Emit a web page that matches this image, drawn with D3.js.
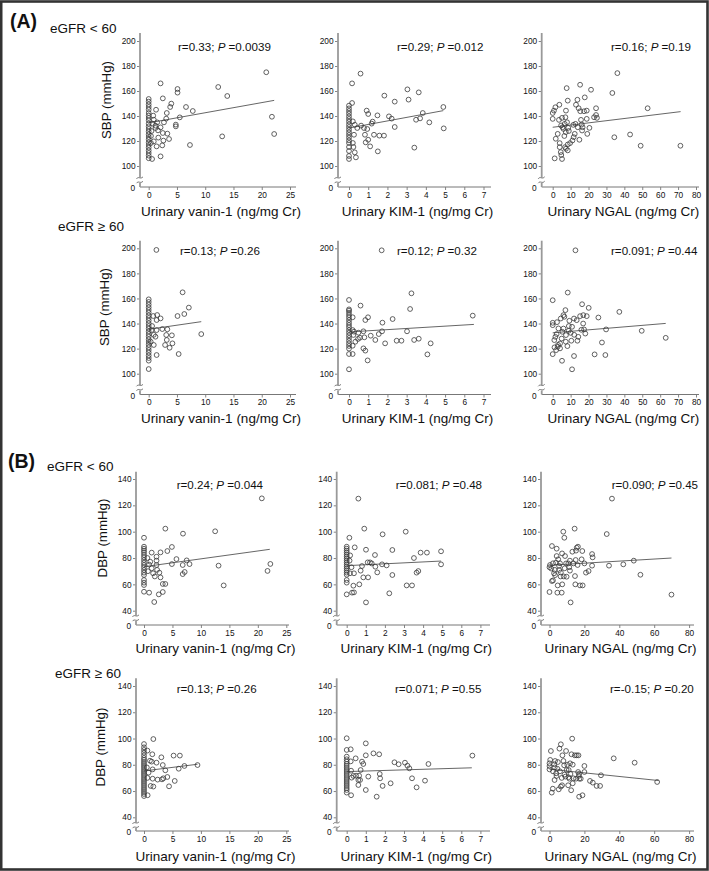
<!DOCTYPE html>
<html><head><meta charset="utf-8">
<script src="https://cdn.jsdelivr.net/npm/d3@7"></script>
<style>body{margin:0;background:#fff}svg{display:block}text{font-family:"Liberation Sans",Arial,sans-serif;fill:#111}</style>
</head><body>
<svg id="c" width="709" height="871"></svg>
<script>
// ---------- DATA ----------
const xTitles = ["Urinary vanin-1 (ng/mg Cr)", "Urinary KIM-1 (ng/mg Cr)", "Urinary NGAL (ng/mg Cr)"];
const xTicksA = [[0,5,10,15,20,25],[0,1,2,3,4,5,6,7],[0,10,20,30,40,50,60,70,80]];
const xTicksB = [[0,5,10,15,20,25],[0,1,2,3,4,5,6,7],[0,20,40,60,80]];
const yTicksSBP = [100,120,140,160,180,200];
const yTicksDBP = [40,60,80,100,120,140];
const yTitles = ["SBP (mmHg)", "SBP (mmHg)", "DBP (mmHg)", "DBP (mmHg)"];
const groupLabels = ["eGFR < 60", "eGFR \u2265 60", "eGFR < 60", "eGFR \u2265 60"];
const sectionLabels = ["(A)", "(B)"];
const rValues = ["0.33","0.29","0.16","0.13","0.12","0.091","0.24","0.081","0.090","0.13","0.071","-0.15"];
const pValues = ["0.0039","0.012","0.19","0.26","0.32","0.44","0.044","0.48","0.45","0.26","0.55","0.20"];
// regression line end points [x0,y0,x1,y1]
const trendLines = [
 [0,134.5,22.2,152.5],[0,130.4,4.91,144.3],[0,131,71.4,143.5],
 [0,135.4,9.3,141.5],[0,133.3,6.5,139.3],[0,132.6,63.1,140.1],
 [0,73.4,22.1,86.6],[0,74.2,4.94,77.7],[0,74.5,69.9,80],
 [0,75.3,9.4,80.4],[0,74.8,6.55,77.7],[0,76.6,62.5,68]
];
const col0 = (arr) => arr.map(v => [0, v]);
const vaninSBPlow = col0([153.6,151.5,149.3,147.2,145.1,142.4,140.3,138.4,136.5,133.9,131.7,129.6,127.5,125.3,123.2,121.1,118.9,116.8,114.7,112.5,110.4,108.3,106.2]).concat([
 [0.6,105.6],[0.8,140.3],[0.9,137],[1.3,145],[0.7,133.9],[1.2,132.3],[1.5,134.9],[0.4,118.4],[0.9,119.7],[1.4,115.7],[1.7,122.7],[2.1,107.7],[2.4,116.5],[2.6,120.3],[2.5,126.4],[3.3,125.9],[3.6,121.6],[2.1,130.9],[2.7,134.9],[3.1,137.9],[3.2,142.4],[3.8,147.2],[4.0,149.9],[2.1,166.1],[2.5,154.1],[4.8,133.1],[4.8,131.7],[5.5,138.9],[5.1,161.6],[5.1,158.7],[6.6,147.2],[7.8,144],[7.3,116.8],[12.3,163.2],[13.9,156],[13,123.7],[20.8,175],[21.8,139.4],[22.2,125.6],[1.2,130.4],[1.65,128.5],[0.5,128],[0.4,124]]);
const kimSBPlow = col0([148.3,146.1,144,141.9,139.7,137.6,135.5,133.3,131.2,129,126.9,124.8,122.7,120.5,118.4,115.2,112,108,105.6]).concat([
 [0.6,173.9],[0.16,166.1],[0.16,150.4],[0.2,135.7],[0.3,133],[0.43,130.4],[0.26,125],[0.2,118.4],[0.23,115.2],[0.3,110.9],[0.36,106.9],[0.63,132.3],[0.78,130.4],[0.92,144.3],[1.0,141.6],[0.83,125],[0.87,118.9],[1.0,121],[1.1,115.7],[0.95,129.6],[1.18,133.9],[1.23,135.5],[1.3,125],[1.5,111.7],[1.48,140.5],[1.58,124.3],[1.82,124.3],[1.84,156.3],[2.08,139.7],[2.22,137.9],[2.38,151.5],[2.38,131.2],[3.04,161.3],[3.1,153.1],[3.4,114.7],[3.49,137],[3.63,158.9],[3.7,138.1],[3.84,142.4],[4.18,134.9],[4.91,147.2],[4.93,130.1]]);
const ngalSBPlow = [
 [0,137.7],[0,142.4],[0.7,144.3],[1.5,147],[1.1,106.1],[1.7,121.8],[2.8,125.7],[3.7,149],[3.5,136.9],[3.9,118.3],[3.9,115.1],[4.7,132.4],[4.5,111.1],[4.8,108.8],[5.2,105.6],[5.2,138.5],[6,129.7],[6.7,133.7],[7.1,139],[7.4,144.3],[7.8,162.3],[8.4,152.3],[7.3,127.1],[6.9,115.1],[7.4,113.8],[8.4,112.5],[8.4,117.2],[8.7,130.5],[9.7,118.3],[11,120.4],[11.7,123.1],[11.5,132.9],[12.3,125.7],[12.7,133.7],[13,149],[13.8,153],[14,131],[14.5,146.2],[15.3,165],[14.9,121],[15.4,143.8],[15.8,136.9],[16.2,133.2],[16.7,131],[16.4,128.4],[17.5,143.8],[17.9,154.9],[19,144.3],[19,137.7],[19.3,125.7],[20.5,130.5],[21.4,161],[23.1,139],[24.2,146.2],[24.2,140.8],[24.7,138.5],[33.3,158.4],[34.4,123],[36.1,174.3],[43.2,125.2],[49.1,116.2],[53,146.2],[71.3,116.2],[5.5,131],[8,135],[9,128],[6.5,124]];
const vaninSBPhigh = col0([159.3,157.2,155,152.9,150.8,148.7,146.5,144.4,142.3,140.2,138,135.9,133.8,131.6,129.5,127.4,125.3,123.1,121,118.9,116.8,114.6,112.5,110.4,103.7]).concat([
 [1.36,198.7],[0.8,146],[1.5,146.8],[2.1,144.1],[1.4,142.8],[0.5,134.8],[1.4,134.8],[1.2,129.5],[0.35,125.5],[0.9,122.9],[1.4,114.9],[2.4,135.6],[3.3,135.4],[3.1,130.9],[4.1,130.6],[3.2,126.9],[4.2,124.2],[2.9,122.9],[3.7,120.7],[5.3,115.7],[5.1,146],[6.3,147.6],[6,164.9],[7.1,152.7],[9.3,131.6],[0.6,138],[0.9,131]]);
const kimSBPhigh = col0([158.8,151.3,150.3,148.7,146.8,144.9,142.8,140.7,138.8,137,134.8,132.7,130.6,128.5,126.3,124.2,122.1,120,115.7,103.5]).concat([
 [1.7,198.4],[0.19,145],[0.19,134.8],[0.26,133.5],[0.23,130.9],[0.19,122.3],[0.33,125.5],[0.19,115.7],[0.49,132.7],[0.47,127.7],[0.57,128.7],[0.6,154.3],[0.75,133.8],[0.8,129],[0.85,142.8],[0.99,145],[0.75,120.2],[0.85,118.4],[0.97,110.6],[1.13,130.3],[1.37,126.9],[1.55,131.6],[1.72,133.8],[1.74,140.7],[1.88,124.2],[2.27,143.6],[2.48,126.3],[2.73,126.3],[3.02,133.8],[3.18,151.6],[3.25,164.1],[3.39,126.9],[3.63,127.9],[4.08,115.4],[4.25,124.2],[6.44,146.3]]);
const ngalSBPhigh = [
 [12.7,198.4],[0,158.6],[8.4,164.7],[0,140.6],[0,138.7],[2.4,141.1],[0.9,126.8],[0,115.6],[1.9,118.8],[2.8,121.5],[1.5,129.4],[2.2,131.6],[3.2,136.1],[4.5,144],[5.4,133.4],[4.1,124.1],[4.1,120.2],[5.2,110.3],[6,146.7],[6.5,145.4],[7.1,150.7],[7.4,130.8],[7.3,125.5],[8.2,122],[8.9,134.2],[9.3,142.2],[10,132.6],[10.8,137.4],[10.4,126.3],[11.9,114.1],[10.8,103.5],[11.9,144],[13.4,142.7],[13.8,126.3],[14.3,129.4],[15.3,145.9],[16.4,155.4],[17.1,146.7],[17.5,135.3],[18.2,132],[19,145.9],[20.1,152.5],[25.5,144.8],[23.4,115.4],[27.5,124.9],[29.4,114.9],[29.8,135.3],[37.2,149.3],[49.7,134.2],[63.1,128.6],[5,128],[6,136],[9,138],[12,131],[16,135],[17,140],[3,123],[1,121]];
const vaninDBPlow = col0([88.6,87.1,85.6,84.1,82.3,80.5,78.5,76.5,74.7,72.9,70.9,68.9,67.1,63.3,61.3,59.5,54.4,95.4]).concat([
 [0.9,53.7],[1.8,46.6],[1.35,84.1],[1.1,77.2],[1.35,72.2],[1.6,68.4],[2.2,81],[2.2,78],[2.2,74.7],[2.7,68.9],[2.9,65.3],[2.9,84.3],[3.75,102.3],[4.1,85.3],[4.9,88.4],[4.9,75.4],[3.3,60.3],[3.75,60.3],[3.3,54.2],[2.6,52.4],[5.7,79.2],[6.85,98.5],[6.8,74.7],[6.8,67.8],[7.15,69.4],[7.5,78.2],[8,75.4],[12.5,100.3],[13.1,74.2],[14,59.2],[20.7,125.3],[22.2,75.5],[21.7,70.2],[0.6,80],[0.9,75],[0.7,70],[1.9,66],[2.3,71]]);
const kimDBPlow = col0([88.6,87.1,85.6,84.1,82.5,81,79.5,78,76.5,74.9,73.4,71.9,70.4,68.9,67.3,63.3,61.3,52.4]).concat([
 [0.14,95.4],[0.17,68.4],[0.28,53.7],[0.38,53.9],[0.35,59],[0.38,68.4],[0.42,88.1],[0.66,60],[0.61,125.1],[0.73,70.4],[0.8,73.9],[0.87,65.3],[0.92,102.3],[1.01,86.3],[1.01,46.3],[1.1,76.7],[1.12,65.3],[1.22,76.7],[1.31,75.9],[1.48,82.3],[1.5,73.4],[1.6,69.1],[1.85,75.2],[1.88,98],[2.09,74.4],[2.23,53.2],[2.39,86.1],[2.39,67.1],[3.09,100],[3.14,59.2],[3.42,59.2],[3.52,80],[3.66,68.9],[3.75,70.1],[3.87,84.1],[4.2,84.1],[4.94,85.1],[4.94,75.2],[0.15,78],[0.18,82],[0.25,73]]);
const ngalDBPlow = [
 [0,54.2],[0.3,74.7],[0,73],[1.4,89.1],[1.4,62.5],[2,63],[2.6,68.4],[3.2,67],[3.7,76.5],[4.1,87.1],[4.1,81.5],[4.5,53.7],[4.7,59.2],[5.5,74],[5.6,70.9],[6,76],[6.4,66],[7,53.7],[7.3,60],[7.2,83.5],[7.9,100],[8.5,95.4],[8.9,81.5],[9.5,75.9],[8.7,72.2],[8.2,66],[9.8,65.8],[10.8,75.9],[11.3,73],[11.7,78],[11.7,70.4],[12.1,46.3],[13.7,75.9],[14.4,102.3],[14.6,66.3],[14.8,60],[15,78.5],[13.1,84.8],[15.2,85.6],[15.6,87.8],[16.3,88.6],[16.1,74.7],[17.5,59.2],[19,59.2],[18.8,85.3],[18.4,79],[20,75.9],[20.9,68.9],[22.4,70.1],[24.4,83],[24.7,80.5],[24.4,74.2],[32.8,98.2],[34.1,74.2],[35.8,125.1],[42.3,75.2],[48.3,78],[52.1,67.3],[69.9,52.2],[1,72],[2,76],[3,71],[5,79],[6.5,69]];
const vaninDBPhigh = col0([95.8,93.3,91.3,89.2,87.2,85.2,83.7,82.1,80.6,79.1,77.6,76,74.5,73,71.5,69.9,68.4,66.9,65.4,63.9,62.3,60.8,59.3,57.8,56.2]).concat([
 [0.6,90.8],[0.64,56.8],[1.05,83.1],[1.35,82.4],[1.64,99.6],[1.46,88],[1.52,76.5],[1.52,69.4],[1.17,63.9],[1.64,63.4],[2.2,81.6],[2.4,68.7],[3.05,85.7],[3.3,79.8],[3.16,68.9],[3.4,69.7],[3.75,75.8],[4.1,70.7],[4.4,63.6],[5.2,87],[5.4,67.7],[6.3,87],[6.1,77],[7.1,79.1],[9.4,79.8],[0.5,78],[0.8,74],[0.6,70]]);
const kimDBPhigh = col0([100.2,91.3,86.2,84.2,82.4,80.6,79.1,77.6,76,74.5,73,71.5,69.9,68.4,66.9,65.4,63.9,62.3,60.8,58.8]).concat([
 [0.21,91.8],[0.21,82.6],[0.23,75.5],[0.26,70.2],[0.23,56.8],[0.35,71.5],[0.47,84.9],[0.49,71.7],[0.61,68.4],[0.61,64.6],[0.65,71.7],[0.73,76],[0.7,68.4],[0.8,82.4],[0.87,80.6],[1,96.3],[1,87.2],[1,60.8],[1.13,71],[1.4,88.7],[1.7,88],[1.73,73],[1.75,69.7],[1.57,55.7],[1.88,63.9],[2.3,65.9],[2.5,81.9],[2.72,80.4],[3.05,81.6],[3.18,79.3],[3.28,77.3],[3.42,69.7],[3.66,62.8],[4.1,67.9],[4.28,80.6],[6.58,87]]);
const ngalDBPhigh = [
 [0,81.1],[0.4,83.7],[0,79],[0,76.5],[0.8,90.5],[1.3,58.8],[1.9,61.8],[2.7,80.4],[2.9,68.4],[3.2,82.9],[3.8,73.5],[4,71.5],[4.5,77],[4.8,82.1],[5.3,61.3],[5.7,92.3],[6.5,95.6],[6.5,63.4],[7.2,64.4],[7.4,87.2],[8,82.9],[8.4,79.6],[8.6,72.5],[9.1,71],[9.5,90.5],[9.8,76],[10.2,80],[10.7,64.4],[10.9,70.5],[11.4,69.4],[11.8,81.1],[12.4,60.6],[12.6,88],[13,99.9],[13.3,80.1],[13.3,65.9],[13.7,69.7],[14.5,87.2],[15.2,69.4],[15.6,87.2],[16.6,87.2],[16.4,74.5],[16.8,71.5],[17,55.7],[17.1,69.4],[17.9,69.4],[18.9,56.8],[20,79.1],[20,74.5],[23.2,67.7],[24.8,66.4],[27,63.9],[29,63.9],[29.5,72],[36.8,84.9],[48.8,81.6],[61.7,66.9],[2,75],[3,78],[6,75],[7,70],[11,76],[12,73],[17,73]];
const panelData = [vaninSBPlow,kimSBPlow,ngalSBPlow,vaninSBPhigh,kimSBPhigh,ngalSBPhigh,vaninDBPlow,kimDBPlow,ngalDBPlow,vaninDBPhigh,kimDBPhigh,ngalDBPhigh];

// ---------- LAYOUT ----------
const colsA = [{ax:140,x0:148.7,x1:290,end:296},{ax:338,x0:349,x1:483.5,end:491},{ax:541.7,x0:552.7,x1:696,end:699}];
const colsB = [{ax:136,x0:144,x1:286.3,end:289},{ax:336.7,x0:346.7,x1:480.4,end:490},{ax:541,x0:549.5,x1:689.1,end:694}];
const rows = [
 {top:33, yb:166, yt:41, axisY:187, brk:180, tickLab:197.3, title:215.5, statY:51, grp:[50,33], yT:[106,100]},
 {top:240.7, yb:373.7, yt:248.3, axisY:394.5, brk:387.5, tickLab:404.8, title:423, statY:255, grp:[58,231], yT:[104,307]},
 {top:471.7, yb:610.7, yt:479, axisY:625, brk:618, tickLab:637.9, title:653, statY:489, grp:[47,470.5], yT:[102.5,538]},
 {top:678.3, yb:817.3, yt:686, axisY:831, brk:825, tickLab:843.9, title:860.7, statY:693, grp:[55,678], yT:[100,747]}
];
const statX = [[178,397,611],[180,397,611],[176.7,395.7,611.7],[176.7,395,610]];

const svg = d3.select("#c");
svg.append("rect").attr("x",1.2).attr("y",1.5).attr("width",706.3).attr("height",868).attr("fill","#fff").attr("stroke","#333").attr("stroke-width",2.6);

svg.append("text").attr("x",10).attr("y",28).attr("font-size",19.5).attr("font-weight","bold").text(sectionLabels[0]);
svg.append("text").attr("x",8).attr("y",468).attr("font-size",19.5).attr("font-weight","bold").text(sectionLabels[1]);

const fmt = d3.format("~g");
rows.forEach((R, ri) => {
  const cols = ri < 2 ? colsA : colsB;
  const xt = ri < 2 ? xTicksA : xTicksB;
  const yt = ri < 2 ? yTicksSBP : yTicksDBP;
  svg.append("text").attr("x",R.grp[0]).attr("y",R.grp[1]).attr("font-size",13.5).text(groupLabels[ri]);
  svg.append("text").attr("transform",`translate(${R.yT[0]},${R.yT[1]}) rotate(-90)`)
     .attr("text-anchor","middle").attr("dy","0.35em").attr("font-size",13.3).text(yTitles[ri]);
  cols.forEach((C, ci) => {
    const pi = ri*3 + ci;
    const ticks = xt[ci];
    const x = d3.scaleLinear().domain([ticks[0], ticks[ticks.length-1]]).range([C.x0, C.x1]);
    const y = d3.scaleLinear().domain([yt[0], yt[yt.length-1]]).range([R.yb, R.yt]);
    const g = svg.append("g");
    // x axis
    const xa = g.append("g").attr("transform",`translate(0,${R.axisY})`)
      .call(d3.axisBottom(x).tickValues(ticks).tickFormat(fmt).tickSize(3).tickPadding(2).tickSizeOuter(0));
    xa.select(".domain").remove();
    xa.selectAll(".tick line").attr("stroke","#666").attr("stroke-width",0.8);
    xa.selectAll(".tick text").attr("font-size",8.3).attr("fill","#222").attr("font-family","Liberation Sans, Arial, sans-serif");
    g.append("line").attr("x1",C.ax).attr("x2",C.end).attr("y1",R.axisY).attr("y2",R.axisY).attr("stroke","#777").attr("stroke-width",1);
    g.append("text").attr("x",(C.ax + C.end)/2 + 3).attr("y",R.title).attr("text-anchor","middle").attr("font-size",13.5).text(xTitles[ci]);
    // y axis
    const ya = g.append("g").attr("transform",`translate(${C.ax},0)`)
      .call(d3.axisLeft(y).tickValues(yt).tickFormat(fmt).tickSize(3).tickPadding(1.5).tickSizeOuter(0));
    ya.select(".domain").remove();
    ya.selectAll(".tick line").attr("stroke","#666").attr("stroke-width",0.8);
    ya.selectAll(".tick text").attr("font-size",8.3).attr("fill","#222").attr("font-family","Liberation Sans, Arial, sans-serif");
    g.append("line").attr("x1",C.ax).attr("x2",C.ax).attr("y1",R.top).attr("y2",R.brk-2.5).attr("stroke","#999").attr("stroke-width",1.8);
    g.append("line").attr("x1",C.ax).attr("x2",C.ax).attr("y1",R.brk+3).attr("y2",R.axisY).attr("stroke","#999").attr("stroke-width",1.8);
    [-2.2, 2.2].forEach(d => {
      const yy = R.brk + d;
      g.append("path").attr("d",`M${C.ax-3.5},${yy+1} C${C.ax-1.5},${yy-2} ${C.ax+0.5},${yy+2} ${C.ax+3},${yy-1}`)
       .attr("fill","none").attr("stroke","#555").attr("stroke-width",0.8);
    });
    g.append("text").attr("x",C.ax-5).attr("y",R.axisY+1.8).attr("dy","0.32em").attr("text-anchor","end").attr("font-size",8.3).attr("fill","#222").text("0");
    // stats
    const st = g.append("text").attr("x",statX[ri][ci]).attr("y",R.statY).attr("font-size",11.6);
    st.append("tspan").text(`r=${rValues[pi]}; `);
    st.append("tspan").attr("font-style","italic").text("P");
    st.append("tspan").text(` =${pValues[pi]}`);
    // trend line
    const t = trendLines[pi];
    g.append("line").attr("x1",x(t[0])).attr("y1",y(t[1])).attr("x2",x(t[2])).attr("y2",y(t[3]))
      .attr("stroke","#555").attr("stroke-width",0.9);
    // points
    g.selectAll("circle.pt").data(panelData[pi]).join("circle").attr("class","pt")
      .attr("cx",d=>x(d[0])).attr("cy",d=>y(d[1])).attr("r",2.4)
      .attr("fill","none").attr("stroke","#3a3a3a").attr("stroke-width",0.8);
  });
});
</script>
</body></html>
